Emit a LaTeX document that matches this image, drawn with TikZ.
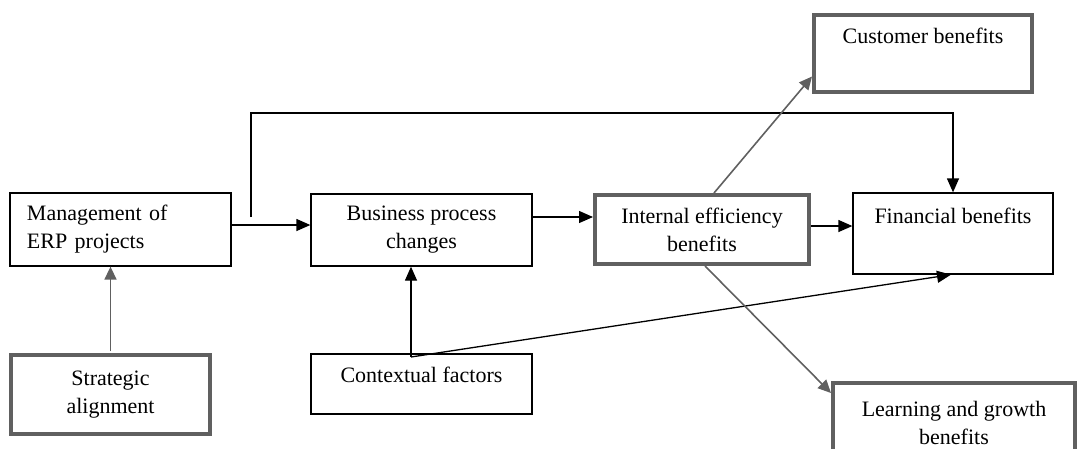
\documentclass[tikz,border=0pt]{standalone}
\usepackage{fontspec}
\setmainfont{Liberation Serif}
\usepackage{tikz}
\usetikzlibrary{arrows.meta,positioning,calc}
\definecolor{framegray}{RGB}{96,96,96}

\begin{document}
\begin{tikzpicture}[
    x=1pt, y=-1pt,
    font=\fontsize{22}{28}\selectfont,
    box/.style={rectangle, draw=black, line width=1.3pt, align=center, inner sep=0pt},
    keybox/.style={rectangle, draw=framegray, line width=4pt, align=center, inner sep=0pt},
    arrow/.style={-{Triangle[length=14pt, width=12pt]}, line width=1.3pt},
    grayarrow/.style={-{Triangle[length=13pt, width=12pt]}, draw=framegray, fill=framegray, line width=1.6pt}
]
\useasboundingbox (0,0) rectangle (1078,448);

\node[box, align=left, text width=187pt, inner xsep=17pt, minimum height=73pt] (mgmt) at (120.5,229.5) {Management of\\ERP projects};
\node[keybox, minimum width=199pt, minimum height=79pt] (strat) at (110.5,394.5) {Strategic\\alignment};
\node[box, minimum width=221pt, minimum height=72pt] (bpc) at (421.5,230) {Business process\\changes};
\node[box, minimum width=221pt, minimum height=60pt, text depth=18.5pt] (ctx) at (421.5,384) {Contextual factors};
\node[keybox, minimum width=214pt, minimum height=69pt] (ieb) at (702,229.5) {Internal efficiency\\benefits};
\node[box, minimum width=200pt, minimum height=81pt] (fin) at (953,233.5) {Financial benefits\\\strut};
\node[keybox, minimum width=218pt, minimum height=77pt] (cust) at (923,53.5) {Customer benefits\\\strut};
\node[keybox, minimum width=242pt, minimum height=80pt] (learn) at (954,423) {Learning and growth\\benefits};

% main chain
\draw[arrow] ([yshift=4.5pt]mgmt.east) -- ([yshift=4.5pt]mgmt.east -| bpc.west);
\draw[arrow] ([yshift=13pt]bpc.east) -- ([yshift=13pt]bpc.east -| ieb.west);
\draw[arrow] ([yshift=3.5pt]ieb.east) -- ([yshift=3.5pt]ieb.east -| fin.west);

% direct link to financial benefits
\coordinate (tap) at (251,217);
\coordinate (over) at (0,113);
\draw[arrow] (tap) |- (over -| fin.north) -- (fin.north);

% contextual factors
\coordinate (cfoot) at (411,357);
\draw[arrow] (cfoot) -- (cfoot |- bpc.south);
\draw[arrow] (cfoot) -- ([xshift=-2pt]fin.south);

% gray links
\draw[grayarrow] (strat.north |- 0,351) -- (strat.north |- mgmt.south);
\draw[grayarrow] ([xshift=12pt]ieb.north) -- ([yshift=-23pt]cust.west);
\draw[grayarrow] ([xshift=3pt]ieb.south) -- ([yshift=30pt]learn.west);
\end{tikzpicture}
\end{document}
